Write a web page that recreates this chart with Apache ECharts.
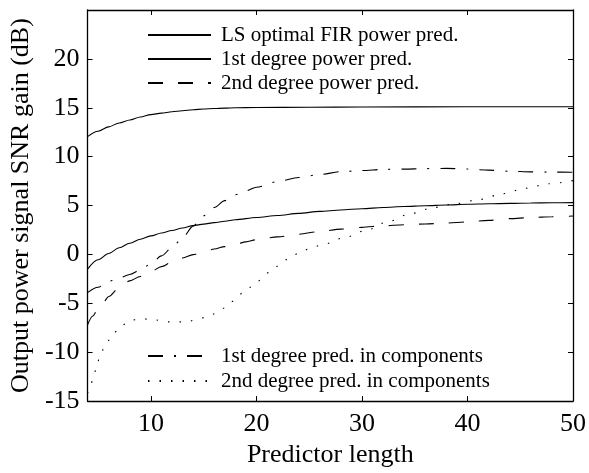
<!DOCTYPE html>
<html>
<head>
<meta charset="utf-8">
<script src="https://cdn.jsdelivr.net/npm/echarts@6/dist/echarts.min.js"></script>
<style>
  html, body { margin: 0; padding: 0; background: #fff; }
  #chart { width: 589px; height: 473px; }
</style>
</head>
<body>
<div id="chart"></div>
<script>
// values
var xTicks = [10, 20, 30, 40, 50];
var yTicks = [-15, -10, -5, 0, 5, 10, 15, 20];

var lsX = [4, 5, 6, 7, 8, 9, 10, 11, 12, 13, 14, 15, 16, 17, 18, 20, 25, 30, 40, 50];
var lsY = [12.05, 12.6, 13.05, 13.45, 13.75, 14.05, 14.3, 14.45, 14.6, 14.7, 14.8, 14.87, 14.92, 14.96, 15.0, 15.03, 15.06, 15.08, 15.1, 15.1];

var p1X = [4, 5, 6, 7, 8, 9, 10, 11, 12, 13, 14, 15, 16, 17, 18, 20, 22, 24, 26, 28, 30, 32, 34, 36, 38, 40, 42, 44, 46, 48, 50];
var p1Y = [-1.5, -0.55, 0.1, 0.68, 1.15, 1.55, 1.9, 2.2, 2.45, 2.7, 2.95, 3.1, 3.25, 3.4, 3.55, 3.78, 3.98, 4.2, 4.4, 4.55, 4.68, 4.8, 4.9, 4.98, 5.05, 5.13, 5.18, 5.22, 5.26, 5.28, 5.3];

var p2X = [4, 4.5, 5, 5.5, 6, 7, 8, 9, 10, 11, 12, 13, 14, 15, 16, 17, 18, 19, 20, 22, 24, 26, 28, 30, 32, 34, 36, 38, 40, 42, 44, 46, 48, 50];
var p2Y = [-7.2, -6.3, -5.55, -4.9, -4.3, -3.4, -2.7, -2.25, -1.75, -1.25, -0.8, -0.37, -0.02, 0.26, 0.55, 0.8, 1.03, 1.28, 1.5, 1.8, 2.07, 2.35, 2.59, 2.77, 2.93, 3.03, 3.12, 3.21, 3.33, 3.48, 3.66, 3.77, 3.86, 3.93];

var c1X = [4, 5, 6, 7, 8, 9, 10, 11, 12, 13, 14, 15, 16, 17, 18, 19, 20, 22, 24, 26, 28, 30, 32, 34, 36, 38, 40, 42, 44, 46, 48, 50];
var c1Y = [-3.9, -3.35, -2.75, -2.4, -2.05, -1.6, -0.95, -0.15, 0.7, 1.7, 2.9, 3.95, 4.8, 5.5, 6.1, 6.5, 6.87, 7.45, 7.87, 8.17, 8.47, 8.58, 8.7, 8.73, 8.78, 8.8, 8.74, 8.62, 8.51, 8.44, 8.42, 8.4];

var c2X = [4, 4.25, 4.6, 4.9, 5.25, 5.8, 6.5, 7.3, 8.2, 9.3, 10.4, 11.5, 12.7, 13.7, 14.8, 15.9, 16.9, 17.7, 19, 20, 21.3, 22.2, 23.1, 24.1, 25.1, 26.2, 28.3, 30.4, 32.5, 34.6, 36.8, 38.9, 41.2, 43.3, 45.5, 47.7, 50];
var c2Y = [-14.2, -13.5, -12.4, -11.2, -10.1, -9.0, -8.0, -7.2, -6.7, -6.6, -6.7, -6.9, -6.9, -6.8, -6.5, -6.1, -5.5, -4.8, -3.7, -2.8, -1.8, -1.07, -0.37, 0.17, 0.63, 0.97, 1.7, 2.47, 3.37, 4.17, 4.8, 5.2, 5.63, 6.2, 6.77, 7.23, 7.55];

var names = [
  'LS optimal FIR power pred.',
  '1st degree power pred.',
  '2nd degree power pred.',
  '1st degree pred. in components',
  '2nd degree pred. in components'
];

function zip(xs, ys) {
  return xs.map(function (x, i) { return [x, ys[i]]; });
}

var serif = "'Liberation Serif', 'Times New Roman', serif";

function mkSeries(name, xs, ys, dash) {
  return {
    name: name,
    type: 'line',
    data: zip(xs, ys),
    symbol: 'none',
    smooth: 0.3,
    smoothMonotone: 'x',
    lineStyle: { color: '#000', width: 1.1, type: dash },
    itemStyle: { color: '#000' }
  };
}

var axisLine = { show: true, onZero: false, lineStyle: { color: '#000', width: 1.3 } };

var legendText = { fontFamily: serif, fontSize: 21, color: '#000', lineHeight: 24, padding: [0, 0, 0, 5] };

var myChart = echarts.init(document.getElementById('chart'));
var option = {
  backgroundColor: '#fff',
  animation: false,
  grid: { left: 82, right: 14, top: 10, bottom: 65 },
  legend: [
    {
      data: names.slice(0, 3),
      orient: 'vertical',
      left: 147, top: 23,
      padding: 0,
      itemWidth: 63, itemHeight: 14, itemGap: 0,
      itemStyle: { opacity: 0 },
      textStyle: legendText
    },
    {
      data: names.slice(3),
      orient: 'vertical',
      left: 147, top: 344,
      padding: 0,
      itemWidth: 63, itemHeight: 14, itemGap: 1,
      itemStyle: { opacity: 0 },
      textStyle: legendText
    }
  ],
  xAxis: [
    {
      type: 'value', min: 4, max: 50, position: 'bottom',
      name: 'Predictor length', nameLocation: 'middle', nameGap: 39,
      nameTextStyle: { fontFamily: serif, fontSize: 26, color: '#000' },
      axisLine: axisLine,
      axisTick: { inside: true, length: 5, customValues: xTicks, lineStyle: { color: '#000' } },
      axisLabel: { customValues: xTicks, fontFamily: serif, fontSize: 26, color: '#000', margin: 10 },
      splitLine: { show: false }
    },
    {
      type: 'value', min: 4, max: 50, position: 'top',
      axisLine: axisLine,
      axisTick: { inside: true, length: 5, customValues: xTicks, lineStyle: { color: '#000' } },
      axisLabel: { show: false },
      splitLine: { show: false }
    }
  ],
  yAxis: [
    {
      type: 'value', min: -15, max: 25, interval: 5, position: 'left',
      name: 'Output power signal SNR gain (dB)', nameLocation: 'middle', nameGap: 48,
      nameTextStyle: { fontFamily: serif, fontSize: 26, color: '#000' },
      axisLine: axisLine,
      axisTick: { inside: true, length: 5, customValues: yTicks, lineStyle: { color: '#000' } },
      axisLabel: { customValues: yTicks, fontFamily: serif, fontSize: 26, color: '#000', margin: 8 },
      splitLine: { show: false }
    },
    {
      type: 'value', min: -15, max: 25, interval: 5, position: 'right',
      axisLine: axisLine,
      axisTick: { inside: true, length: 5, customValues: yTicks, lineStyle: { color: '#000' } },
      axisLabel: { show: false },
      splitLine: { show: false }
    }
  ],
  series: [
    mkSeries(names[0], lsX, lsY, 'solid'),
    mkSeries(names[1], p1X, p1Y, 'solid'),
    mkSeries(names[2], p2X, p2Y, [15, 15]),
    mkSeries(names[3], c1X, c1Y, [15, 11, 2, 11]),
    mkSeries(names[4], c2X, c2Y, [1.5, 10])
  ]
};
myChart.setOption(option);
window.addEventListener('resize', function () { myChart.resize(); });
</script>
</body>
</html>
